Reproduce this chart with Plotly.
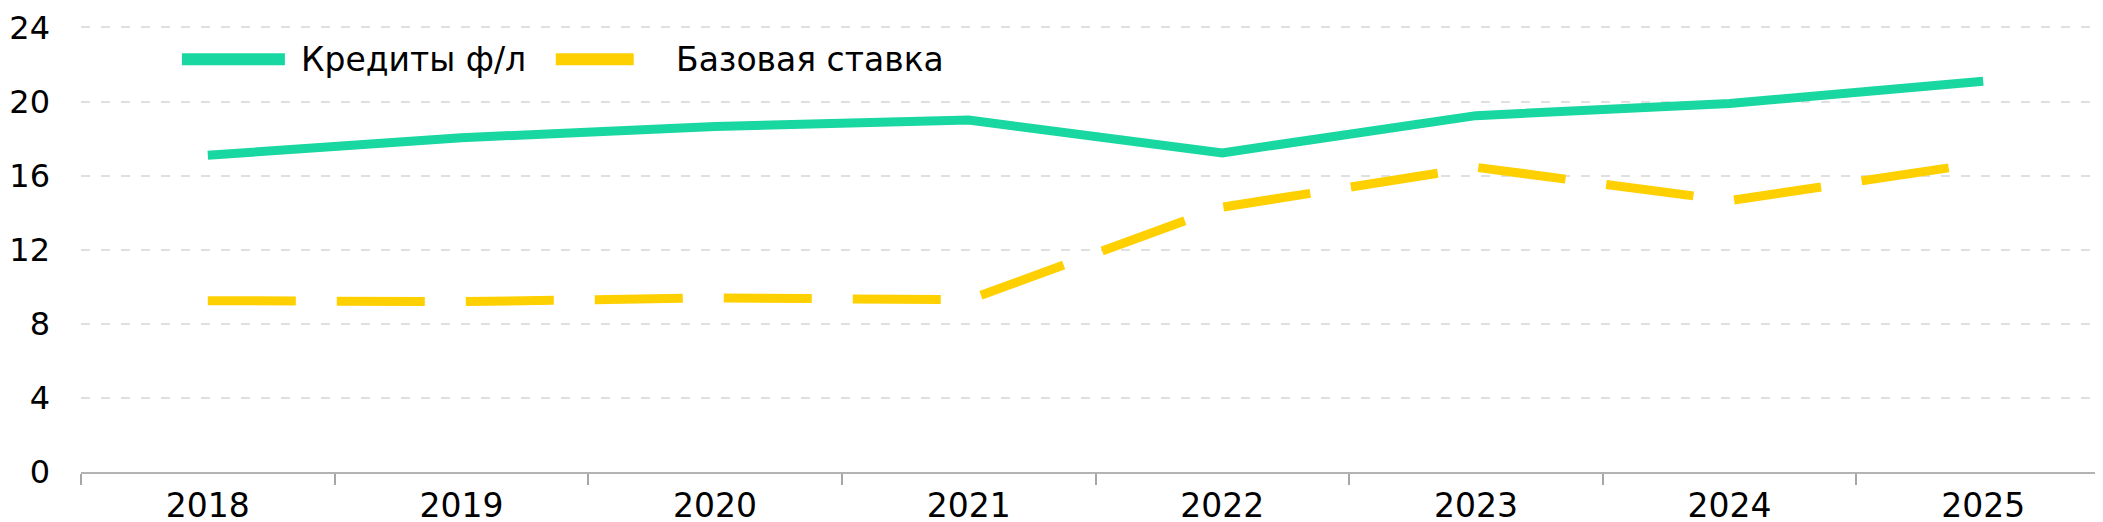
import plotly.graph_objects as go

years = ["2018", "2019", "2020", "2021", "2022", "2023", "2024", "2025"]
credits = [17.1, 18.05, 18.65, 19.0, 17.23, 19.24, 19.9, 21.1]
key_rate = [9.25, 9.2, 9.4, 9.3, 14.3, 16.45, 14.65, 16.7]
y_ticks = [0, 4, 8, 12, 16, 20, 24]
names = ["Кредиты ф/л", "Базовая ставка"]
colors = ["#18D7A0", "#FFD000"]

W, H = 2103, 522
ML, MR, MT, MB = 72, 1, 12, 58
pw = W - ML - MR
ph = H - MT - MB

fig = go.Figure()
fig.add_trace(go.Scatter(x=years, y=credits, mode="lines", name=names[0],
                         line=dict(color=colors[0], width=9), showlegend=False))
fig.add_trace(go.Scatter(x=years, y=key_rate, mode="lines", name=names[1],
                         line=dict(color=colors[1], width=9, dash="88px,41px"),
                         showlegend=False))

def px_x(p):
    return (p - ML) / pw

def px_y(p):
    return (H - MB - p) / ph

# custom legend (solid symbols)
leg_y = 45.6
legend_items = [(173, 276, 290, names[0], colors[0]), (547, 625, 665, names[1], colors[1])]
for x0, x1, tx, label, col in legend_items:
    fig.add_shape(type="line", xref="paper", yref="paper",
                  x0=px_x(x0), x1=px_x(x1), y0=px_y(leg_y), y1=px_y(leg_y),
                  line=dict(color=col, width=12))
    fig.add_annotation(xref="paper", yref="paper", x=px_x(tx), y=px_y(leg_y),
                       text=label, showarrow=False, xanchor="left", yanchor="middle",
                       font=dict(family="DejaVu Sans", size=33, color="#000000"))

fig.update_layout(
    width=W, height=H,
    margin=dict(l=ML, r=MR, t=MT, b=MB, pad=0),
    plot_bgcolor="white", paper_bgcolor="white",
    font=dict(family="DejaVu Sans", color="#000000"),
    showlegend=False,
)
fig.update_xaxes(
    type="category", range=[-0.5, 7.5], tickson="boundaries",
    ticks="outside", ticklen=11, tickwidth=1.5, tickcolor="#A6A6A6",
    showline=True, linecolor="#B3B3B3", linewidth=1.5,
    showgrid=False, tickfont=dict(size=33, color="#000000"),
    ticklabelstandoff=4,
)
fig.update_yaxes(
    range=[0, 24.08], tickvals=y_ticks, ticktext=[str(v) for v in y_ticks],
    showgrid=True, gridcolor="#E0E0E0", gridwidth=2, griddash="9px,11px",
    zeroline=False, showline=False, ticks="", ticklabelstandoff=30,
    ticklabeloverflow="allow",
    tickfont=dict(size=32, color="#000000"),
)

fig.write_html("out.html")
